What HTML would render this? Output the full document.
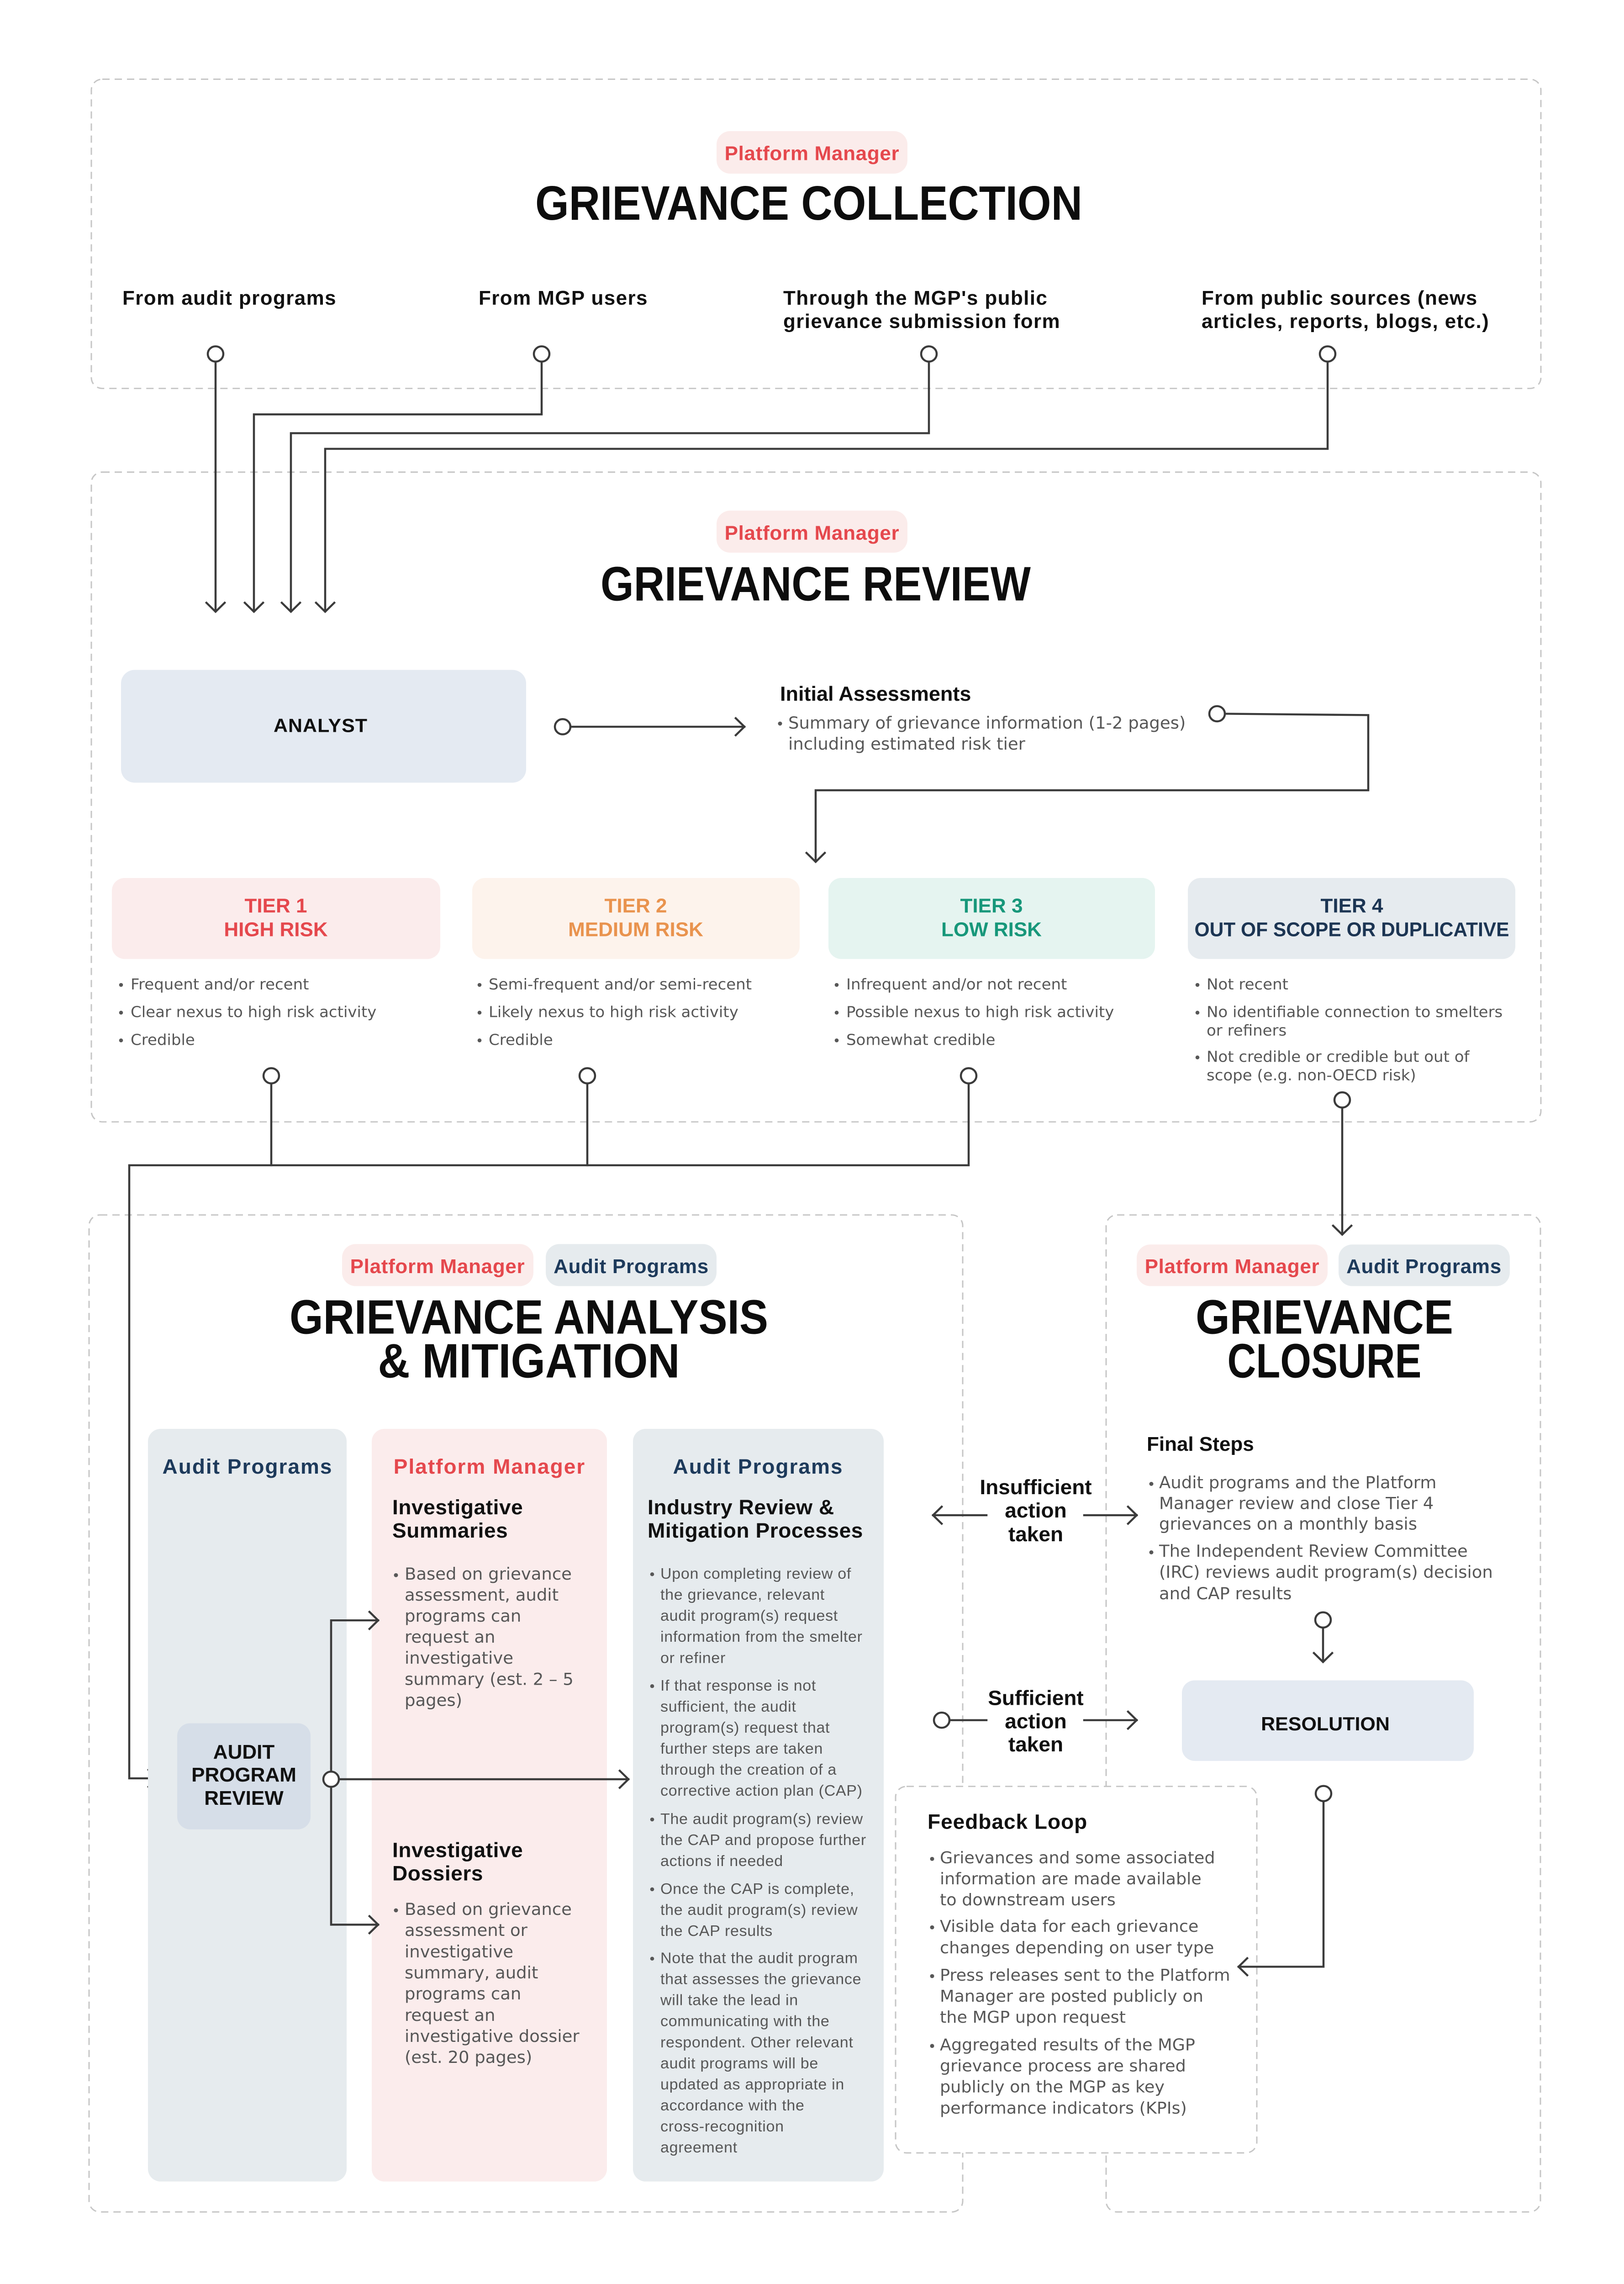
<!DOCTYPE html>
<html><head><meta charset="utf-8">
<style>
html,body{margin:0;padding:0;background:#fff;width:100%;height:100%;overflow:hidden;}
svg{display:block;position:absolute;left:0;top:0;width:100vw;height:100vh;}
.b{font-family:"Liberation Sans",Arial,sans-serif;font-weight:700;fill:#111;}
.t{font-family:"Liberation Sans",Arial,sans-serif;font-weight:700;font-size:108px;fill:#0d0d0d;text-anchor:middle;}
.pm{fill:#e5484d;}
.ap{fill:#1d3a5b;}
.pill{font-size:44px;letter-spacing:0.7px;text-anchor:middle;}
.body{font-family:"DejaVu Sans",sans-serif;font-size:37px;fill:#575757;}
.fb{font-family:"DejaVu Sans",sans-serif;font-size:36.5px;fill:#575757;}
.tb{font-family:"DejaVu Sans",sans-serif;font-size:34px;fill:#575757;}
.c3{font-family:"Liberation Sans",Arial,sans-serif;font-size:34px;letter-spacing:0.7px;fill:#575757;}
.dash{fill:none;stroke:#c6c6c6;stroke-width:3;stroke-dasharray:16 11;}
.ln{fill:none;stroke:#3b3b3b;stroke-width:4.5;stroke-linejoin:miter;stroke-linecap:square;}
.cir{fill:#fff;stroke:#3b3b3b;stroke-width:4.5;}
.dot{fill:#575757;}
</style></head><body>
<svg viewBox="0 0 3556 5104" preserveAspectRatio="none" xmlns="http://www.w3.org/2000/svg">
<rect x="0" y="0" width="3556" height="5104" fill="#fff"/>

<!-- dashed section boxes -->
<rect class="dash" x="200" y="177" width="3174" height="691" rx="24"/>
<rect class="dash" x="200" y="1055" width="3174" height="1452" rx="24"/>
<rect class="dash" x="195" y="2715" width="1913" height="2228" rx="24"/>
<rect class="dash" x="2422" y="2715" width="951" height="2228" rx="24"/>

<!-- ===== SECTION 1: COLLECTION ===== -->
<rect x="1569" y="293" width="418" height="95" rx="30" fill="#fbeceb"/>
<text class="b pm pill" x="1778" y="358">Platform Manager</text>
<text class="t" x="1771" y="491" textLength="1198" lengthAdjust="spacingAndGlyphs">GRIEVANCE COLLECTION</text>

<g class="b" font-size="44" style="letter-spacing:1.4px">
<text x="268" y="681">From audit programs</text>
<text x="1048" y="681">From MGP users</text>
<text x="1715" y="681">Through the MGP's public</text>
<text x="1715" y="733">grievance submission form</text>
<text x="2631" y="681">From public sources (news</text>
<text x="2631" y="733">articles, reports, blogs, etc.)</text>
</g>

<polyline class="ln" points="472,808 472,1366"/>
<polyline class="ln" points="1186,808 1186,926 556,926 556,1366"/>
<polyline class="ln" points="2034,808 2034,968 637,968 637,1366"/>
<polyline class="ln" points="2907,808 2907,1003 712,1003 712,1366"/>
<polyline class="ln" points="452,1347 472,1367 492,1347"/>
<polyline class="ln" points="536,1347 556,1367 576,1347"/>
<polyline class="ln" points="617,1347 637,1367 657,1347"/>
<polyline class="ln" points="692,1347 712,1367 732,1347"/>
<circle class="cir" cx="472" cy="791" r="17"/>
<circle class="cir" cx="1186" cy="791" r="17"/>
<circle class="cir" cx="2034" cy="791" r="17"/>
<circle class="cir" cx="2907" cy="791" r="17"/>

<!-- ===== SECTION 2: REVIEW ===== -->
<rect x="1569" y="1141" width="418" height="94" rx="30" fill="#fbeceb"/>
<text class="b pm pill" x="1778" y="1206">Platform Manager</text>
<text class="t" x="1786" y="1342" textLength="942" lengthAdjust="spacingAndGlyphs">GRIEVANCE REVIEW</text>

<rect x="265" y="1497" width="887" height="252" rx="30" fill="#e4eaf2"/>
<text class="b" x="702" y="1636" font-size="43" text-anchor="middle" style="letter-spacing:1px">ANALYST</text>

<polyline class="ln" points="1249,1624 1630,1624"/>
<polyline class="ln" points="1611,1605 1630,1624 1611,1643"/>
<circle class="cir" cx="1232" cy="1624" r="17"/>

<text class="b" x="1708" y="1566" font-size="45">Initial Assessments</text>
<circle class="dot" cx="1708" cy="1617" r="4.5"/>
<text class="body" x="1726" y="1628">Summary of grievance information (1-2 pages)</text>
<text class="body" x="1726" y="1675">including estimated risk tier</text>

<polyline class="ln" points="2682,1595 2996,1598 2996,1766 1786,1766 1786,1925"/>
<polyline class="ln" points="1766,1906 1786,1926 1806,1906"/>
<circle class="cir" cx="2665" cy="1595" r="17"/>

<!-- tiers -->
<rect x="245" y="1962" width="719" height="181" rx="28" fill="#fbecec"/>
<rect x="1034" y="1962" width="717" height="181" rx="28" fill="#fdf3ec"/>
<rect x="1814" y="1962" width="715" height="181" rx="28" fill="#e5f4f0"/>
<rect x="2601" y="1962" width="717" height="181" rx="28" fill="#e6ebef"/>
<g class="b" font-size="44" text-anchor="middle">
<text x="604" y="2039" style="fill:#e5484d">TIER 1</text>
<text x="604" y="2092" style="fill:#e5484d">HIGH RISK</text>
<text x="1392" y="2039" style="fill:#e9934e">TIER 2</text>
<text x="1392" y="2092" style="fill:#e9934e">MEDIUM RISK</text>
<text x="2171" y="2039" style="fill:#17977a">TIER 3</text>
<text x="2171" y="2092" style="fill:#17977a">LOW RISK</text>
<text x="2960" y="2039" style="fill:#1c3553">TIER 4</text>
<text x="2960" y="2092" style="fill:#1c3553" textLength="689" lengthAdjust="spacingAndGlyphs">OUT OF SCOPE OR DUPLICATIVE</text>
</g>

<g>
<circle class="dot" cx="265" cy="2201" r="4.3"/><text class="tb" x="286" y="2211">Frequent and/or recent</text>
<circle class="dot" cx="265" cy="2263" r="4.3"/><text class="tb" x="286" y="2273">Clear nexus to high risk activity</text>
<circle class="dot" cx="265" cy="2325" r="4.3"/><text class="tb" x="286" y="2335">Credible</text>

<circle class="dot" cx="1050" cy="2201" r="4.3"/><text class="tb" x="1070" y="2211">Semi-frequent and/or semi-recent</text>
<circle class="dot" cx="1050" cy="2263" r="4.3"/><text class="tb" x="1070" y="2273">Likely nexus to high risk activity</text>
<circle class="dot" cx="1050" cy="2325" r="4.3"/><text class="tb" x="1070" y="2335">Credible</text>

<circle class="dot" cx="1832" cy="2201" r="4.3"/><text class="tb" x="1853" y="2211">Infrequent and/or not recent</text>
<circle class="dot" cx="1832" cy="2263" r="4.3"/><text class="tb" x="1853" y="2273">Possible nexus to high risk activity</text>
<circle class="dot" cx="1832" cy="2325" r="4.3"/><text class="tb" x="1853" y="2335">Somewhat credible</text>

<circle class="dot" cx="2622" cy="2201" r="4.3"/><text class="tb" x="2642" y="2211">Not recent</text>
<circle class="dot" cx="2622" cy="2263" r="4.3"/><text class="tb" x="2642" y="2273">No identifiable connection to smelters</text>
<text class="tb" x="2642" y="2314">or refiners</text>
<circle class="dot" cx="2622" cy="2363" r="4.3"/><text class="tb" x="2642" y="2373">Not credible or credible but out of</text>
<text class="tb" x="2642" y="2414">scope (e.g. non-OECD risk)</text>
</g>

<!-- tier connectors -->
<polyline class="ln" points="594,2421 594,2604"/>
<polyline class="ln" points="1286,2421 1286,2604"/>
<polyline class="ln" points="2121,2421 2121,2604 283,2604 283,3974 344,3974"/>
<polyline class="ln" points="325,3955 344,3974 325,3993"/>
<circle class="cir" cx="594" cy="2404" r="17"/>
<circle class="cir" cx="1286" cy="2404" r="17"/>
<circle class="cir" cx="2121" cy="2404" r="17"/>
<polyline class="ln" points="2939,2475 2939,2758"/>
<polyline class="ln" points="2919,2739 2939,2759 2959,2739"/>
<circle class="cir" cx="2939" cy="2458" r="17"/>

<!-- ===== SECTION 3: ANALYSIS & MITIGATION ===== -->
<rect x="749" y="2780" width="419" height="94" rx="30" fill="#fbeceb"/>
<text class="b pm pill" x="958" y="2845">Platform Manager</text>
<rect x="1195" y="2780" width="374" height="94" rx="30" fill="#e6ebee"/>
<text class="b ap pill" x="1382" y="2845">Audit Programs</text>
<text class="t" x="1158" y="2980" textLength="1048" lengthAdjust="spacingAndGlyphs">GRIEVANCE ANALYSIS</text>
<text class="t" x="1158" y="3078" textLength="661" lengthAdjust="spacingAndGlyphs">&amp; MITIGATION</text>

<rect x="324" y="3193" width="435" height="1682" rx="28" fill="#e6ebee"/>
<rect x="814" y="3193" width="515" height="1682" rx="28" fill="#fbecec"/>
<rect x="1386" y="3193" width="549" height="1682" rx="28" fill="#e6ebee"/>

<g class="b" font-size="46" text-anchor="middle" style="letter-spacing:2px">
<text class="ap" x="542" y="3293">Audit Programs</text>
<text class="pm" x="1072" y="3293">Platform Manager</text>
<text class="ap" x="1660" y="3293">Audit Programs</text>
</g>

<g class="b" font-size="46" style="letter-spacing:0.6px">
<text x="859" y="3384">Investigative</text>
<text x="859" y="3436">Summaries</text>
<text x="1418" y="3384">Industry Review &amp;</text>
<text x="1418" y="3436">Mitigation Processes</text>
<text x="859" y="4150">Investigative</text>
<text x="859" y="4202">Dossiers</text>
</g>

<circle class="dot" cx="867" cy="3520" r="4.5"/>
<text class="body" x="886" y="3530">Based on grievance</text>
<text class="body" x="886" y="3577">assessment, audit</text>
<text class="body" x="886" y="3624">programs can</text>
<text class="body" x="886" y="3671">request an</text>
<text class="body" x="886" y="3718">investigative</text>
<text class="body" x="886" y="3765">summary (est. 2 – 5</text>
<text class="body" x="886" y="3812">pages)</text>

<circle class="dot" cx="867" cy="4269" r="4.5"/>
<text class="body" x="886" y="4279">Based on grievance</text>
<text class="body" x="886" y="4326">assessment or</text>
<text class="body" x="886" y="4374">investigative</text>
<text class="body" x="886" y="4421">summary, audit</text>
<text class="body" x="886" y="4468">programs can</text>
<text class="body" x="886" y="4516">request an</text>
<text class="body" x="886" y="4563">investigative dossier</text>
<text class="body" x="886" y="4610">(est. 20 pages)</text>

<g>
<circle class="dot" cx="1428" cy="3518" r="4.3"/>
<text class="c3" x="1446" y="3528">Upon completing review of</text>
<text class="c3" x="1446" y="3575">the grievance, relevant</text>
<text class="c3" x="1446" y="3622">audit program(s) request</text>
<text class="c3" x="1446" y="3669">information from the smelter</text>
<text class="c3" x="1446" y="3716">or refiner</text>
<circle class="dot" cx="1428" cy="3768" r="4.3"/>
<text class="c3" x="1446" y="3778">If that response is not</text>
<text class="c3" x="1446" y="3825">sufficient, the audit</text>
<text class="c3" x="1446" y="3872">program(s) request that</text>
<text class="c3" x="1446" y="3919">further steps are taken</text>
<text class="c3" x="1446" y="3966">through the creation of a</text>
<text class="c3" x="1446" y="4013">corrective action plan (CAP)</text>
<circle class="dot" cx="1428" cy="4066" r="4.3"/>
<text class="c3" x="1446" y="4076">The audit program(s) review</text>
<text class="c3" x="1446" y="4123">the CAP and propose further</text>
<text class="c3" x="1446" y="4170">actions if needed</text>
<circle class="dot" cx="1428" cy="4222" r="4.3"/>
<text class="c3" x="1446" y="4232">Once the CAP is complete,</text>
<text class="c3" x="1446" y="4279">the audit program(s) review</text>
<text class="c3" x="1446" y="4326">the CAP results</text>
<circle class="dot" cx="1428" cy="4377" r="4.3"/>
<text class="c3" x="1446" y="4387">Note that the audit program</text>
<text class="c3" x="1446" y="4434">that assesses the grievance</text>
<text class="c3" x="1446" y="4481">will take the lead in</text>
<text class="c3" x="1446" y="4528">communicating with the</text>
<text class="c3" x="1446" y="4575">respondent. Other relevant</text>
<text class="c3" x="1446" y="4622">audit programs will be</text>
<text class="c3" x="1446" y="4669">updated as appropriate in</text>
<text class="c3" x="1446" y="4716">accordance with the</text>
<text class="c3" x="1446" y="4763">cross-recognition</text>
<text class="c3" x="1446" y="4810">agreement</text>
</g>

<rect x="388" y="3851" width="292" height="237" rx="28" fill="#d6dee8"/>
<g class="b" font-size="44" text-anchor="middle">
<text x="534" y="3930">AUDIT</text>
<text x="534" y="3981">PROGRAM</text>
<text x="534" y="4033">REVIEW</text>
</g>

<polyline class="ln" points="828,3621 725,3621 725,4301 828,4301"/>
<polyline class="ln" points="809,3602 828,3621 809,3640"/>
<polyline class="ln" points="809,4282 828,4301 809,4320"/>
<polyline class="ln" points="742,3976 1376,3976"/>
<polyline class="ln" points="1357,3957 1376,3976 1357,3995"/>
<circle class="cir" cx="725" cy="3976" r="17"/>

<!-- ===== SECTION 4: CLOSURE ===== -->
<rect x="2489" y="2781" width="418" height="93" rx="30" fill="#fbeceb"/>
<text class="b pm pill" x="2698" y="2845">Platform Manager</text>
<rect x="2931" y="2781" width="375" height="93" rx="30" fill="#e6ebee"/>
<text class="b ap pill" x="3118" y="2845">Audit Programs</text>
<text class="t" x="2900" y="2980" textLength="564" lengthAdjust="spacingAndGlyphs">GRIEVANCE</text>
<text class="t" x="2900" y="3078" textLength="425" lengthAdjust="spacingAndGlyphs">CLOSURE</text>

<text class="b" x="2511" y="3242" font-size="44">Final Steps</text>
<circle class="dot" cx="2521" cy="3316" r="4.5"/>
<text class="body" x="2538" y="3326">Audit programs and the Platform</text>
<text class="body" x="2538" y="3372">Manager review and close Tier 4</text>
<text class="body" x="2538" y="3418">grievances on a monthly basis</text>
<circle class="dot" cx="2521" cy="3469" r="4.5"/>
<text class="body" x="2538" y="3479">The Independent Review Committee</text>
<text class="body" x="2538" y="3526">(IRC) reviews audit program(s) decision</text>
<text class="body" x="2538" y="3574">and CAP results</text>

<polyline class="ln" points="2897,3637 2897,3713"/>
<polyline class="ln" points="2877,3694 2897,3714 2917,3694"/>
<circle class="cir" cx="2897" cy="3620" r="17"/>

<rect x="2588" y="3755" width="639" height="180" rx="28" fill="#e4eaf2"/>
<text class="b" x="2902" y="3867" font-size="43" text-anchor="middle">RESOLUTION</text>

<!-- insufficient / sufficient -->
<g class="b" font-size="46" text-anchor="middle">
<text x="2268" y="3339">Insufficient</text>
<text x="2268" y="3391">action</text>
<text x="2268" y="3444">taken</text>
<text x="2268" y="3810">Sufficient</text>
<text x="2268" y="3862">action</text>
<text x="2268" y="3914">taken</text>
</g>
<polyline class="ln" points="2160,3386 2043,3386"/>
<polyline class="ln" points="2062,3367 2043,3386 2062,3405"/>
<polyline class="ln" points="2374,3386 2489,3386"/>
<polyline class="ln" points="2470,3367 2489,3386 2470,3405"/>
<polyline class="ln" points="2079,3844 2160,3844"/>
<circle class="cir" cx="2062" cy="3844" r="17"/>
<polyline class="ln" points="2374,3844 2489,3844"/>
<polyline class="ln" points="2470,3825 2489,3844 2470,3863"/>

<!-- feedback loop -->
<rect x="1961" y="3992" width="791" height="819" rx="24" fill="#fff"/>
<rect class="dash" x="1961" y="3992" width="791" height="819" rx="24"/>
<text class="b" x="2031" y="4087" font-size="46" style="letter-spacing:1px">Feedback Loop</text>
<circle class="dot" cx="2041" cy="4154" r="4.5"/>
<text class="fb" x="2058" y="4164">Grievances and some associated</text>
<text class="fb" x="2058" y="4211">information are made available</text>
<text class="fb" x="2058" y="4258">to downstream users</text>
<circle class="dot" cx="2041" cy="4307" r="4.5"/>
<text class="fb" x="2058" y="4317">Visible data for each grievance</text>
<text class="fb" x="2058" y="4365">changes depending on user type</text>
<circle class="dot" cx="2041" cy="4416" r="4.5"/>
<text class="fb" x="2058" y="4426">Press releases sent to the Platform</text>
<text class="fb" x="2058" y="4473">Manager are posted publicly on</text>
<text class="fb" x="2058" y="4520">the MGP upon request</text>
<circle class="dot" cx="2041" cy="4572" r="4.5"/>
<text class="fb" x="2058" y="4582">Aggregated results of the MGP</text>
<text class="fb" x="2058" y="4629">grievance process are shared</text>
<text class="fb" x="2058" y="4676">publicly on the MGP as key</text>
<text class="fb" x="2058" y="4723">performance indicators (KPIs)</text>

<polyline class="ln" points="2898,4025 2898,4395 2712,4395"/>
<polyline class="ln" points="2731,4376 2712,4395 2731,4414"/>
<circle class="cir" cx="2898" cy="4008" r="17"/>
</svg>
</body></html>
